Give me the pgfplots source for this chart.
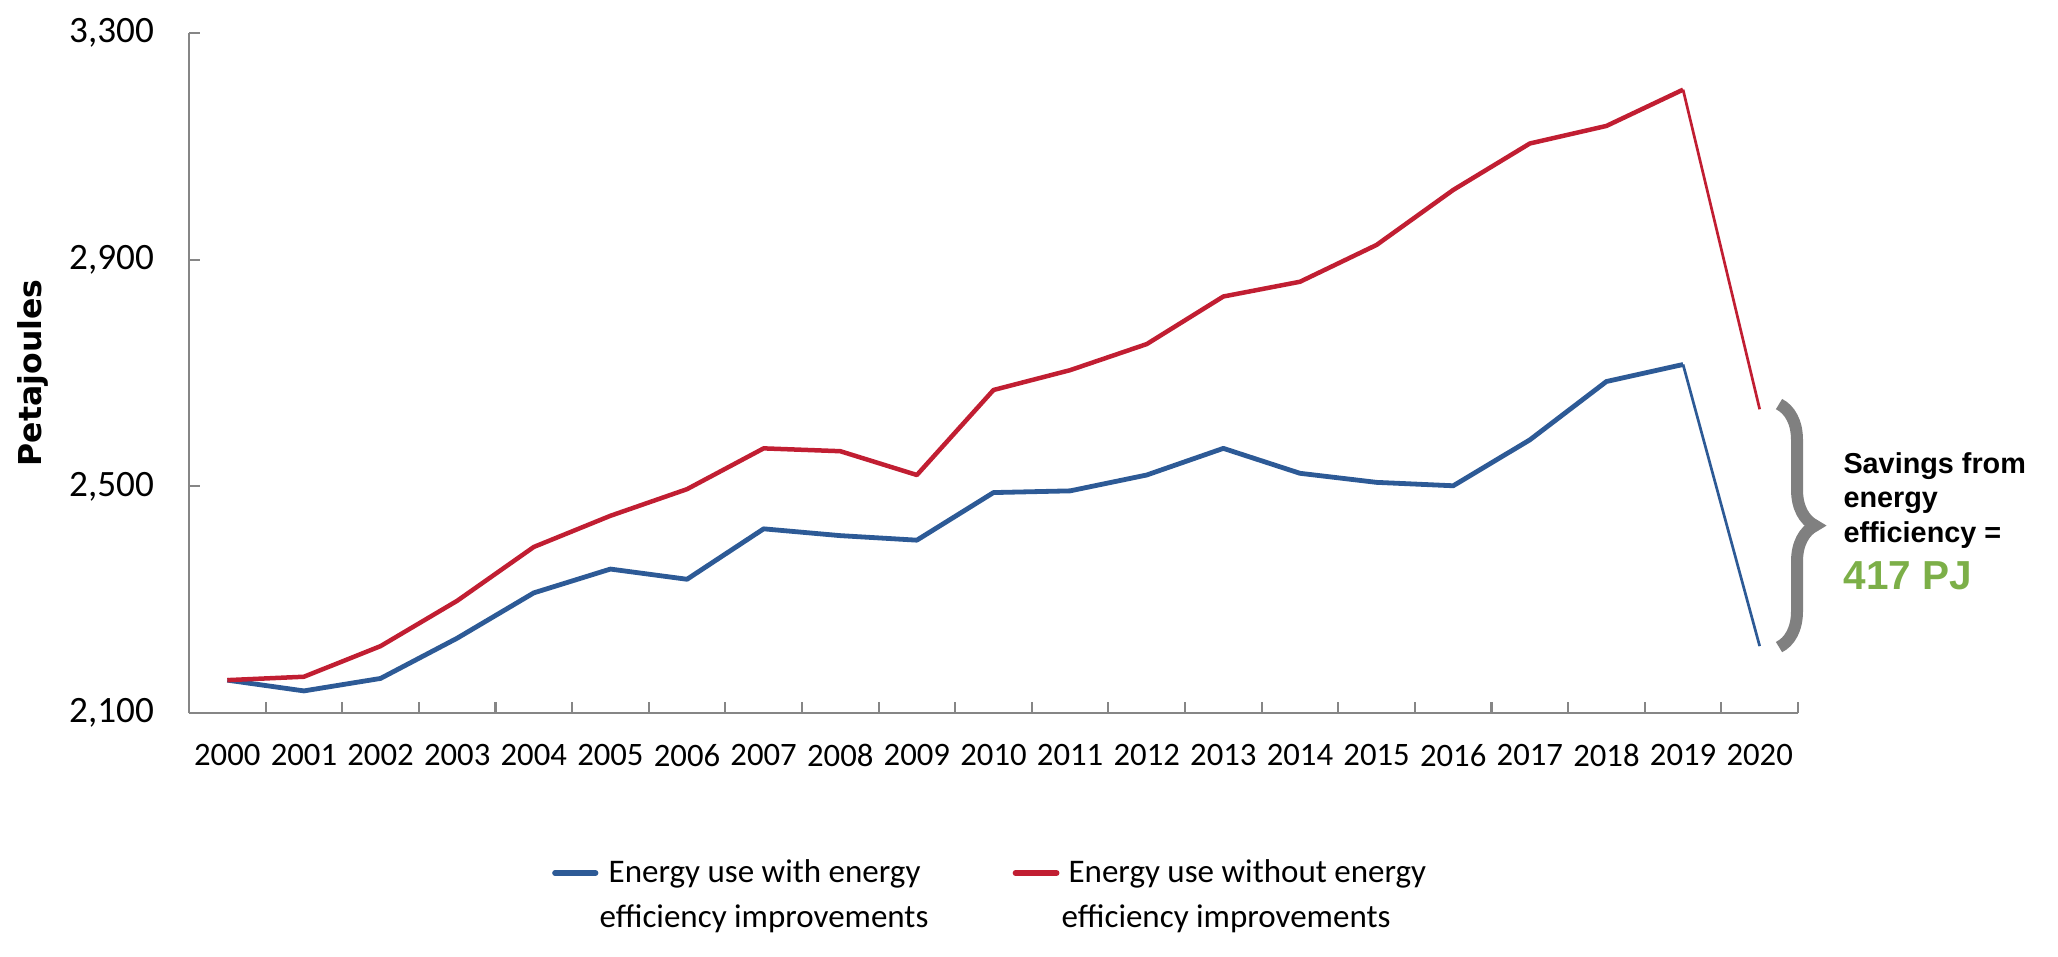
\documentclass[border=0pt]{standalone}
\usepackage{fontspec}
\setmainfont{Carlito}
\newfontfamily\libsans{Liberation Sans}
\newfontfamily\dejavu{DejaVu Sans}
\usepackage{pgfplots}
\pgfplotsset{compat=1.18}
\usetikzlibrary{decorations.pathreplacing}
\definecolor{cblue}{RGB}{45,90,150}
\definecolor{cred}{RGB}{193,30,50}
\definecolor{cgreen}{RGB}{124,175,72}
\definecolor{cgray}{RGB}{128,128,128}
\definecolor{axgray}{RGB}{134,134,134}
\begin{document}
\begin{tikzpicture}
\useasboundingbox (0,0) rectangle (686bp,319bp);
\begin{axis}[
  at={(63bp,81.33bp)}, anchor=south west,
  scale only axis, width=536.33bp, height=226.67bp,
  xmin=-0.5, xmax=20.5, ymin=2100, ymax=3300,
  axis x line=bottom, axis y line=left,
  axis line style={-, draw=axgray, line width=0.85bp},
  xtick={-0.5,0.5,1.5,2.5,3.5,4.5,5.5,6.5,7.5,8.5,9.5,10.5,11.5,12.5,13.5,14.5,15.5,16.5,17.5,18.5,19.5,20.5},
  x tick label as interval,
  xticklabels={2000,2001,2002,2003,2004,2005,2006,2007,2008,2009,2010,2011,2012,2013,2014,2015,2016,2017,2018,2019,2020},
  ytick={2100,2500,2900,3300},
  tick align=inside, major tick length=3.6bp,
  tick style={draw=axgray, line width=0.7bp},
  /pgf/number format/assume math mode=true,
  /pgf/number format/1000 sep={,},
  xticklabel style={font=\fontsize{10.9bp}{13bp}\selectfont, yshift=-7bp},
  yticklabel style={font=\fontsize{12.4bp}{14bp}\selectfont, xshift=-8.2bp},
  clip=false,
  line join=round,
]
\addplot[cblue, line width=1.6bp, mark=none] coordinates {
(0,2158) (1,2139) (2,2161) (3,2232) (4,2312) (5,2354) (6,2336) (7,2425) (8,2413) (9,2405)
(10,2489) (11,2492) (12,2520) (13,2567) (14,2523) (15,2507) (16,2501) (17,2582) (18,2685) (19,2715)};
\addplot[cblue, line width=0.9bp, mark=none] coordinates {(19,2715) (20,2218)};
\addplot[cred, line width=1.5bp, mark=none] coordinates {
(0,2158) (1,2164) (2,2218) (3,2298) (4,2393) (5,2448) (6,2495) (7,2567) (8,2562) (9,2520)
(10,2670) (11,2705) (12,2751) (13,2835) (14,2861) (15,2926) (16,3023) (17,3105) (18,3136) (19,3200)};
\addplot[cred, line width=0.9bp, mark=none] coordinates {(19,3200) (20,2636)};
\end{axis}
% y label
\node[rotate=90, font=\dejavu\bfseries\fontsize{10.5bp}{12bp}\selectfont] at (11bp,194.7bp) {Petajoules};
% brace
\draw[cgray, line width=4bp, decorate, decoration={brace, amplitude=12bp}] (593bp,184.3bp) -- (593bp,103.3bp);
% savings text
\node[anchor=base west, inner sep=0pt, font=\libsans\bfseries\fontsize{9.6bp}{11bp}\selectfont] at (614.3bp,161bp) {Savings from};
\node[anchor=base west, inner sep=0pt, font=\libsans\bfseries\fontsize{9.6bp}{11bp}\selectfont] at (614.3bp,149.7bp) {energy};
\node[anchor=base west, inner sep=0pt, font=\libsans\bfseries\fontsize{9.6bp}{11bp}\selectfont] at (614.3bp,138.3bp) {efficiency =};
\node[anchor=base west, inner sep=0pt, text=cgreen, font=\libsans\bfseries\fontsize{13.5bp}{15bp}\selectfont] at (614.3bp,122.5bp) {417 PJ};
% legend
\draw[cblue, line width=1.9bp, line cap=round] (185bp,28bp) -- (198.5bp,28bp);
\draw[cred, line width=1.9bp, line cap=round] (338.5bp,28bp) -- (352.2bp,28bp);
\node[anchor=base west, inner sep=0pt, font=\fontsize{11bp}{13bp}\selectfont] at (202.7bp,24.7bp) {Energy use with energy};
\node[anchor=base west, inner sep=0pt, font=\fontsize{11bp}{13bp}\selectfont] at (199.7bp,10bp) {efficiency improvements};
\node[anchor=base west, inner sep=0pt, font=\fontsize{11bp}{13bp}\selectfont] at (356bp,24.7bp) {Energy use without energy};
\node[anchor=base west, inner sep=0pt, font=\fontsize{11bp}{13bp}\selectfont] at (353.7bp,10bp) {efficiency improvements};
\end{tikzpicture}
\end{document}
